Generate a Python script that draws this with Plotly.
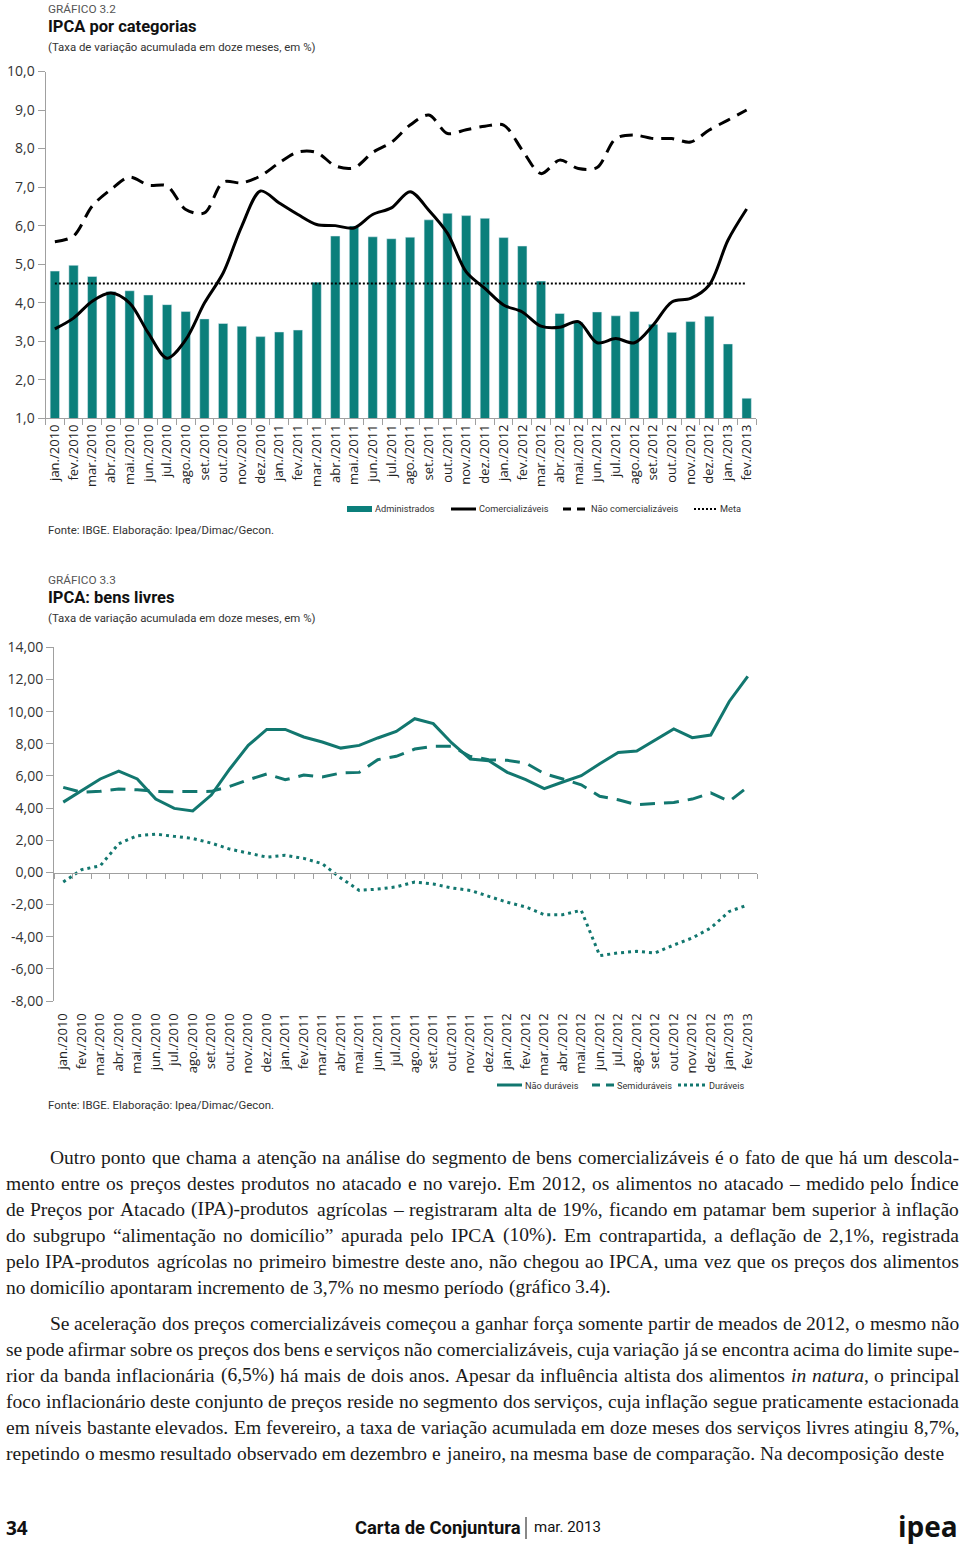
import plotly.graph_objects as go

OFF = 0
FW, FH = 960, 1546

CATEGORIES = ["jan./2010", "fev./2010", "mar./2010", "abr./2010", "mai./2010", "jun./2010",
              "jul./2010", "ago./2010", "set./2010", "out./2010", "nov./2010", "dez./2010",
              "jan./2011", "fev./2011", "mar./2011", "abr./2011", "mai./2011", "jun./2011",
              "jul./2011", "ago./2011", "set./2011", "out./2011", "nov./2011", "dez./2011",
              "jan./2012", "fev./2012", "mar./2012", "abr./2012", "mai./2012", "jun./2012",
              "jul./2012", "ago./2012", "set./2012", "out./2012", "nov./2012", "dez./2012",
              "jan./2013", "fev./2013"]

# Gráfico 3.2
ADMINISTRADOS = [4.82, 4.97, 4.68, 4.29, 4.31, 4.20, 3.95, 3.77, 3.58, 3.46, 3.39, 3.12,
                 3.24, 3.29, 4.53, 5.73, 5.99, 5.71, 5.66, 5.70, 6.15, 6.32, 6.26, 6.19,
                 5.69, 5.47, 4.56, 3.72, 3.49, 3.76, 3.66, 3.77, 3.44, 3.23, 3.51, 3.65,
                 2.93, 1.52]
COMERCIALIZAVEIS = [3.32, 3.60, 4.04, 4.25, 3.99, 3.21, 2.56, 3.04, 3.99, 4.77, 5.99, 6.90,
                    6.59, 6.29, 6.03, 6.00, 5.94, 6.29, 6.46, 6.88, 6.40, 5.80, 4.80, 4.37,
                    3.94, 3.76, 3.39, 3.36, 3.51, 2.96, 3.07, 2.96, 3.42, 4.02, 4.11, 4.46,
                    5.62, 6.43]
NAO_COMERCIALIZAVEIS = [5.58, 5.73, 6.51, 6.94, 7.26, 7.05, 7.03, 6.42, 6.33, 7.13, 7.11, 7.29,
                        7.63, 7.91, 7.90, 7.55, 7.50, 7.90, 8.16, 8.61, 8.87, 8.39, 8.49, 8.58,
                        8.61, 7.96, 7.35, 7.70, 7.48, 7.51, 8.26, 8.35, 8.26, 8.26, 8.17, 8.48,
                        8.74, 9.00]
META = 4.5
Y1_TICKS = [1, 2, 3, 4, 5, 6, 7, 8, 9, 10]
Y1_LABELS = ["1,0", "2,0", "3,0", "4,0", "5,0", "6,0", "7,0", "8,0", "9,0", "10,0"]

# Gráfico 3.3
NAO_DURAVEIS = [4.37, 5.10, 5.81, 6.30, 5.81, 4.56, 3.98, 3.82, 4.81, 6.43, 7.90, 8.89,
                8.89, 8.42, 8.11, 7.73, 7.90, 8.36, 8.77, 9.56, 9.25, 8.05, 7.05, 6.95,
                6.22, 5.77, 5.21, 5.62, 6.01, 6.76, 7.46, 7.55, 8.25, 8.92, 8.38, 8.54,
                10.63, 12.19]
SEMIDURAVEIS = [5.29, 4.98, 5.04, 5.18, 5.14, 5.04, 5.02, 5.04, 5.04, 5.35, 5.76, 6.12,
                5.76, 6.05, 5.93, 6.18, 6.22, 7.01, 7.22, 7.67, 7.84, 7.84, 7.21, 7.01,
                6.97, 6.80, 6.14, 5.81, 5.45, 4.73, 4.52, 4.21, 4.27, 4.35, 4.56, 4.94,
                4.42, 5.31]
DURAVEIS = [-0.60, 0.17, 0.41, 1.78, 2.28, 2.38, 2.24, 2.11, 1.82, 1.45, 1.20, 0.95,
            1.06, 0.87, 0.54, -0.35, -1.12, -1.04, -0.90, -0.60, -0.72, -0.97, -1.12, -1.49,
            -1.86, -2.15, -2.63, -2.63, -2.36, -5.18, -5.01, -4.91, -5.01, -4.52, -4.08, -3.46,
            -2.43, -2.03]
Y2_TICKS = [-8, -6, -4, -2, 0, 2, 4, 6, 8, 10, 12, 14]
Y2_LABELS = ["-8,00", "-6,00", "-4,00", "-2,00", "0,00", "2,00", "4,00", "6,00", "8,00",
             "10,00", "12,00", "14,00"]

TEXT_P1 = [
    "Outro ponto que chama a atenção na análise do segmento de bens comercializáveis é o fato de que há um descola-",
    "mento entre os preços destes produtos no atacado e no varejo. Em 2012, os alimentos no atacado – medido pelo Índice",
    "de Preços por Atacado (IPA)-produtos agrícolas – registraram alta de 19%, ficando em patamar bem superior à inflação",
    "do subgrupo “alimentação no domicílio” apurada pelo IPCA (10%). Em contrapartida, a deflação de 2,1%, registrada",
    "pelo IPA-produtos agrícolas no primeiro bimestre deste ano, não chegou ao IPCA, uma vez que os preços dos alimentos",
    "no domicílio apontaram incremento de 3,7% no mesmo período (gráfico 3.4).",
]
TEXT_P2 = [
    "Se aceleração dos preços comercializáveis começou a ganhar força somente partir de meados de 2012, o mesmo não",
    "se pode afirmar sobre os preços dos bens e serviços não comercializáveis, cuja variação já se encontra acima do limite supe-",
    "rior da banda inflacionária (6,5%) há mais de dois anos. Apesar da influência altista dos alimentos <i>in</i> <i>natura</i>, o principal",
    "foco inflacionário deste conjunto de preços reside no segmento dos serviços, cuja inflação segue praticamente estacionada",
    "em níveis bastante elevados. Em fevereiro, a taxa de variação acumulada em doze meses dos serviços livres atingiu 8,7%,",
    "repetindo o mesmo resultado observado em dezembro e janeiro, na mesma base de comparação. Na decomposição deste",
]

TEAL = "#0b7f7b"
TEAL2 = "#12776f"
GRAY_AX = "#a0a0a0"
SANS = "Roboto, Liberation Sans, sans-serif"
TICKF = "Open Sans, Noto Sans, sans-serif"
SERIF = "Liberation Serif, Times New Roman, serif"

# Times / Liberation Serif advance widths (1/1000 em), used to justify the body text
_TW = {" ": 250, "a": 444, "b": 500, "c": 444, "d": 500, "e": 444, "f": 333, "g": 500,
       "h": 500, "i": 278, "j": 278, "k": 500, "l": 278, "m": 778, "n": 500, "o": 500,
       "p": 500, "q": 500, "r": 333, "s": 389, "t": 278, "u": 500, "v": 500, "w": 722,
       "x": 500, "y": 500, "z": 444, "A": 722, "B": 667, "C": 667, "D": 722, "E": 611,
       "F": 556, "G": 722, "H": 722, "I": 333, "J": 389, "K": 722, "L": 611, "M": 889,
       "N": 722, "O": 722, "P": 556, "Q": 722, "R": 667, "S": 556, "T": 611, "U": 722,
       "V": 722, "W": 944, "X": 722, "Y": 722, "Z": 611, ",": 250, ".": 250, "(": 333,
       ")": 333, "-": 333, "–": 500, "%": 833, "“": 444, "”": 444, ":": 278, ";": 278}
_TWI = {"a": 500, "r": 389, "f": 278, "m": 722}
_ACC = {"á": "a", "à": "a", "ã": "a", "â": "a", "é": "e", "ê": "e", "í": "i", "ó": "o",
        "õ": "o", "ô": "o", "ú": "u", "ç": "c", "Í": "I", "É": "E", "Á": "A"}


def word_width(w, size):
    tot = 0
    italic = False
    i = 0
    while i < len(w):
        if w.startswith("<i>", i):
            italic = True
            i += 3
            continue
        if w.startswith("</i>", i):
            italic = False
            i += 4
            continue
        ch = w[i]
        base = _ACC.get(ch, ch)
        if ch.isdigit():
            tot += 500
        elif italic and base in _TWI:
            tot += _TWI[base]
        else:
            tot += _TW.get(base, 500)
        i += 1
    return tot * size / 1000.0


def px(x):
    return (x - OFF) / FW


def py(y):
    return 1 - (y - OFF) / FH


idx = list(range(len(CATEGORIES)))
fig = go.Figure()

fig.add_trace(go.Bar(x=idx, y=ADMINISTRADOS, marker_color=TEAL, width=0.5,
                     xaxis="x", yaxis="y", showlegend=False))
fig.add_trace(go.Scatter(x=idx, y=COMERCIALIZAVEIS, mode="lines",
                         line=dict(color="black", width=3, shape="spline", smoothing=0.9),
                         xaxis="x", yaxis="y", showlegend=False))
fig.add_trace(go.Scatter(x=idx, y=NAO_COMERCIALIZAVEIS, mode="lines",
                         line=dict(color="black", width=3, shape="spline", smoothing=0.9,
                                   dash="13px,8px"),
                         xaxis="x", yaxis="y", showlegend=False))
fig.add_trace(go.Scatter(x=[idx[0], idx[-1]], y=[META, META], mode="lines",
                         line=dict(color="black", width=2, dash="2px,2px"),
                         xaxis="x", yaxis="y", showlegend=False))
fig.add_trace(go.Scatter(x=idx, y=[None] * len(idx), mode="lines", hoverinfo="skip",
                         xaxis="x4", yaxis="y", showlegend=False))

fig.add_trace(go.Scatter(x=idx, y=NAO_DURAVEIS, mode="lines",
                         line=dict(color=TEAL2, width=3),
                         xaxis="x2", yaxis="y2", showlegend=False))
fig.add_trace(go.Scatter(x=idx, y=SEMIDURAVEIS, mode="lines",
                         line=dict(color=TEAL2, width=3, dash="15px,9px"),
                         xaxis="x2", yaxis="y2", showlegend=False))
fig.add_trace(go.Scatter(x=idx, y=DURAVEIS, mode="lines",
                         line=dict(color=TEAL2, width=3, dash="3px,4px"),
                         xaxis="x2", yaxis="y2", showlegend=False))
fig.add_trace(go.Scatter(x=idx, y=[None] * len(idx), mode="lines", hoverinfo="skip",
                         xaxis="x3", yaxis="y2", showlegend=False))

xr = [-0.5, len(CATEGORIES) - 0.5]
boundaries = [i - 0.5 for i in range(len(CATEGORIES) + 1)]

fig.update_layout(
    width=FW, height=FH, autosize=False,
    margin=dict(l=0, r=0, t=0, b=0, pad=0, autoexpand=False),
    paper_bgcolor="white", plot_bgcolor="white",
    bargap=0.5,
    font=dict(family=TICKF, color="#222"),
    xaxis=dict(domain=[px(45.5), px(756)], range=xr, anchor="y", automargin=False,
               tickmode="array", tickvals=idx, ticktext=CATEGORIES,
               tickangle=-90, tickfont=dict(size=13, family=TICKF, color="#222"),
               showline=True, linecolor=GRAY_AX, linewidth=1,
               ticks="", showgrid=False, zeroline=False),
    xaxis4=dict(domain=[px(45.5), px(756)], range=xr, anchor="y", overlaying="x",
                automargin=False,
                tickmode="array", tickvals=boundaries, showticklabels=False,
                ticks="outside", ticklen=6, tickcolor=GRAY_AX,
                showline=False, showgrid=False, zeroline=False),
    yaxis=dict(domain=[py(418.3), py(71.5)], range=[1, 10], anchor="x", automargin=False,
               tickmode="array", tickvals=Y1_TICKS, ticktext=Y1_LABELS,
               tickfont=dict(size=14, family=TICKF, color="#333"),
               ticks="outside", ticklen=7, tickcolor=GRAY_AX,
               showline=True, linecolor=GRAY_AX, linewidth=1,
               showgrid=False, zeroline=False),
    xaxis2=dict(domain=[px(54), px(757)], range=xr, anchor="y2", automargin=False,
                tickmode="array", tickvals=idx, ticktext=CATEGORIES,
                tickangle=-90, tickfont=dict(size=13, family=TICKF, color="#222"),
                showline=False, ticks="outside", ticklen=6, tickcolor="rgba(0,0,0,0)",
                showgrid=False, zeroline=False),
    xaxis3=dict(domain=[px(54), px(757)], range=xr, anchor="free", overlaying="x2",
                position=py(872.7), automargin=False,
                tickmode="array", tickvals=boundaries, showticklabels=False,
                ticks="outside", ticklen=5, tickcolor=GRAY_AX,
                showline=True, linecolor=GRAY_AX, linewidth=1,
                showgrid=False, zeroline=False),
    yaxis2=dict(domain=[py(1001), py(647.3)], range=[-8, 14], anchor="x2", automargin=False,
                tickmode="array", tickvals=Y2_TICKS, ticktext=Y2_LABELS,
                tickfont=dict(size=14, family=TICKF, color="#333"),
                ticks="outside", ticklen=7, tickcolor=GRAY_AX,
                showline=True, linecolor=GRAY_AX, linewidth=1,
                showgrid=False, zeroline=False),
)

ann = []
shapes = []


def text(x, y, s, size, family=SANS, color="#222", anchor="left", bold=False):
    if bold:
        s = "<b>" + s + "</b>"
    ann.append(dict(x=px(x), y=py(y), xref="paper", yref="paper", text=s, showarrow=False,
                    xanchor=anchor, yanchor="middle", borderpad=0,
                    font=dict(size=size, family=family, color=color)))


def hline(x0, x1, y, color, width, dash=None):
    ln = dict(color=color, width=width)
    if dash:
        ln["dash"] = dash
    shapes.append(dict(type="line", xref="paper", yref="paper", x0=px(x0), x1=px(x1),
                       y0=py(y), y1=py(y), line=ln))


text(47, 9, "GRÁFICO 3.2", 11.8, color="#555")
text(47, 26, "IPCA por categorias", 16.5, color="#111", bold=True)
text(47, 47, "(Taxa de variação acumulada em doze meses, em %)", 11.4, color="#333")
LY = 509
shapes.append(dict(type="rect", xref="paper", yref="paper", x0=px(347), x1=px(372),
                   y0=py(LY + 3), y1=py(LY - 3), fillcolor=TEAL, line=dict(width=0)))
text(374, LY, "Administrados", 9.2, color="#333")
hline(451, 476, LY, "black", 3)
text(478, LY, "Comercializáveis", 9.2, color="#333")
hline(563, 589, LY, "black", 3, "8px,6px")
text(590, LY, "Não comercializáveis", 9.2, color="#333")
hline(694, 717, LY, "black", 2, "2px,2px")
text(719, LY, "Meta", 9.2, color="#333")
text(47, 530, "Fonte: IBGE. Elaboração: Ipea/Dimac/Gecon.", 11.4, color="#333")

text(47, 580, "GRÁFICO 3.3", 11.8, color="#555")
text(47, 597, "IPCA: bens livres", 16.5, color="#111", bold=True)
text(47, 618, "(Taxa de variação acumulada em doze meses, em %)", 11.4, color="#333")
LY2 = 1085
hline(497, 522, LY2, TEAL2, 3)
text(524, LY2, "Não duráveis", 9.2, color="#333")
hline(592, 615, LY2, TEAL2, 3, "8px,6px")
text(616, LY2, "Semiduráveis", 9.2, color="#333")
hline(678, 705, LY2, TEAL2, 3, "3px,3px")
text(708, LY2, "Duráveis", 9.2, color="#333")
text(47, 1105, "Fonte: IBGE. Elaboração: Ipea/Dimac/Gecon.", 11.4, color="#333")

BODY_SIZE = 19.5
LEFT, RIGHT, INDENT = 5, 958, 49


def paragraph(lines, y0):
    for i, line in enumerate(lines):
        y = y0 + 26 * i
        x0 = INDENT if i == 0 else LEFT
        words = line.split(" ")
        widths = [word_width(w, BODY_SIZE) for w in words]
        last = i == len(lines) - 1
        if last or len(words) < 2:
            gap = word_width(" ", BODY_SIZE)
        else:
            gap = (RIGHT - x0 - sum(widths)) / (len(words) - 1)
        x = x0
        for w, ww in zip(words, widths):
            text(x, y, w, BODY_SIZE, family=SERIF, color="#1a1a1a")
            x += ww + gap


paragraph(TEXT_P1, 1157)
paragraph(TEXT_P2, 1323)

text(5, 1528, "34", 19, family="Open Sans, sans-serif", color="#111", bold=True)
text(354, 1527, "Carta de Conjuntura", 18.4, family=SANS, color="#111", bold=True)
shapes.append(dict(type="line", xref="paper", yref="paper", x0=px(526), x1=px(526),
                   y0=py(1517), y1=py(1539), line=dict(color="#111", width=1)))
text(533, 1527, "mar. 2013", 15, family=SANS, color="#111")
text(959, 1526, "ipea", 28, family="Open Sans, sans-serif", color="#111", anchor="right",
     bold=True)

fig.update_layout(annotations=ann, shapes=shapes)

fig.write_html("out.html", config={"displayModeBar": False},
               post_script="document.body.style.margin='0';"
                           "document.documentElement.style.overflow='hidden';")
